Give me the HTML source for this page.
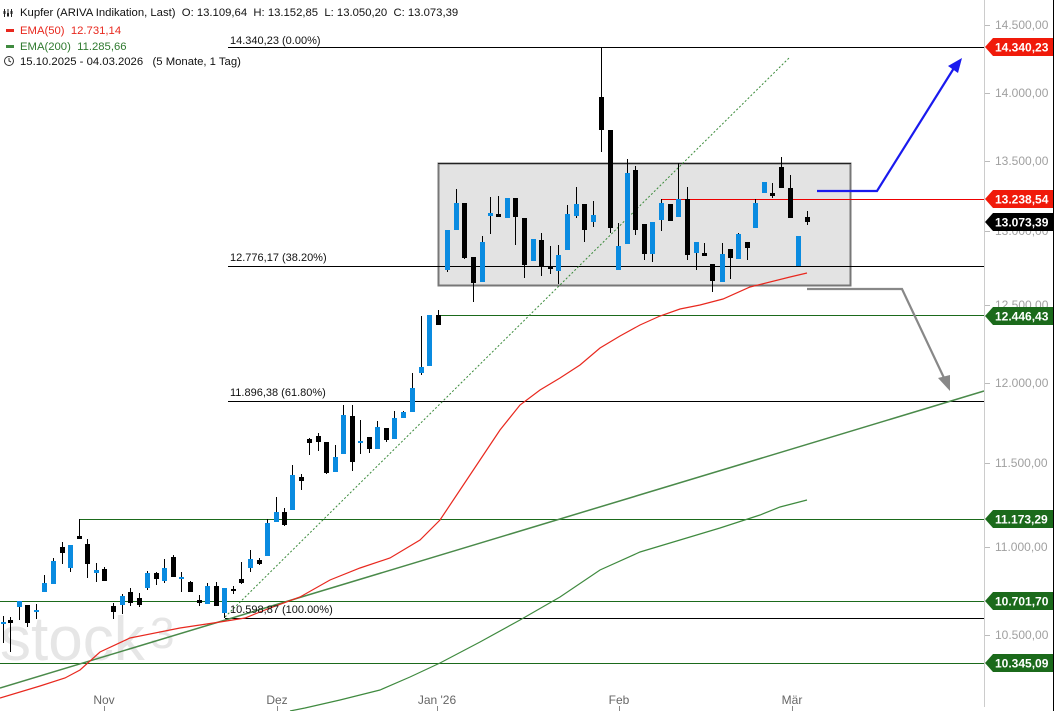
<!DOCTYPE html>
<html><head><meta charset="utf-8"><style>
body{margin:0;background:#fff;}
svg{display:block;font-family:"Liberation Sans",Arial,sans-serif;}
text{white-space:pre;}
</style></head><body>
<svg id="c" width="1055" height="711" xmlns="http://www.w3.org/2000/svg">
<rect width="1055" height="711" fill="#fff"/>
<text x="0" y="660" font-size="62" fill="#e6e6e6" font-family="Liberation Sans,sans-serif">stock</text>
<text x="150" y="648" font-size="44" fill="#e6e6e6">3</text>
<rect x="438.5" y="163.5" width="412" height="122" fill="#e3e3e3" stroke="#777" stroke-width="2"/>
<line x1="438" y1="163.5" x2="851" y2="163.5" stroke="#222" stroke-width="1"/>
<g id="lines"></g>
<g id="candles"></g>
<g id="over"></g>
</svg>
<script>
const ns="http://www.w3.org/2000/svg";
function el(p,t,a,txt){const e=document.createElementNS(ns,t);for(const k in a)e.setAttribute(k,a[k]);if(txt!==undefined)e.textContent=txt;document.getElementById(p).appendChild(e);return e;}
const G="#1b6a1b";
el("lines","line",{x1:228,y1:47.5,x2:985,y2:47.5,stroke:"#000"});
el("lines","line",{x1:228,y1:266.5,x2:985,y2:266.5,stroke:"#000"});
el("lines","line",{x1:228,y1:401.5,x2:985,y2:401.5,stroke:"#000"});
el("lines","line",{x1:225,y1:618.5,x2:985,y2:618.5,stroke:"#000"});
el("lines","line",{x1:438,y1:315.5,x2:985,y2:315.5,stroke:G});
el("lines","line",{x1:79,y1:519.5,x2:985,y2:519.5,stroke:G});
el("lines","line",{x1:79.5,y1:519,x2:79.5,y2:537,stroke:"#000"});
el("lines","line",{x1:0,y1:601.5,x2:985,y2:601.5,stroke:G});
el("lines","line",{x1:0,y1:663.5,x2:985,y2:663.5,stroke:G});
el("lines","line",{x1:661,y1:199.5,x2:985,y2:199.5,stroke:"#e00"});
el("lines","line",{x1:225,y1:617,x2:790,y2:57,stroke:"#3a8a3a","stroke-dasharray":"2,2"});
el("lines","line",{x1:0,y1:688,x2:984,y2:391,stroke:"#4a8a4a","stroke-width":1.5});
el("lines","polyline",{points:"290,711 305,708 340,700 380,690 410,677 440,663 480,642 520,620 560,597 600,570 640,552 680,540 720,528 760,515 780,507 807,500",fill:"none",stroke:"#3f8a3f","stroke-width":1.2});
el("lines","polyline",{points:"0,698 40,686 65,678 80,670 100,652 130,638 180,628 220,622 245,618 270,608 300,597 330,580 360,568 390,558 420,540 440,520 460,490 480,460 500,430 520,405 540,390 560,378 580,365 600,348 620,336 640,325 660,316 680,309 700,305 723,299 750,287 790,277 807,273",fill:"none",stroke:"#e8281e","stroke-width":1.2});
el("lines","text",{x:230,y:44,"font-size":11,fill:"#111"},"14.340,23 (0.00%)");
el("lines","text",{x:230,y:261,"font-size":11,fill:"#111"},"12.776,17 (38.20%)");
el("lines","text",{x:230,y:396,"font-size":11,fill:"#111"},"11.896,38 (61.80%)");
el("lines","text",{x:230,y:613,"font-size":11,fill:"#111"},"10.598,87 (100.00%)");
const C=[[3,622,624,616,643,'b'],[10,620,623,617,652,'k'],[19,601,607,601,620,'b'],[27,605,623,605,627,'k'],[36,610,612,604,619,'b'],
[44,583,592,575,592,'b'],[53,561,584,558,584,'b'],[62,547,553,542,564,'k'],[70,545,568,545,572,'b'],[79,536,539,519,539,'k'],[87,544,564,539,578,'k'],[96,570,573,563,582,'b'],[104,569,581,567,581,'k'],
[113,606,612,603,619,'k'],[122,596,605,594,614,'b'],[130,592,603,588,606,'k'],[139,598,605,593,607,'k'],[147,573,588,571,590,'b'],[156,573,579,572,585,'k'],[164,568,581,559,583,'b'],[173,557,577,555,577,'k'],[181,577,579,572,592,'b'],[190,582,592,581,592,'k'],[199,600,603,595,606,'k'],[207,586,604,583,604,'b'],[216,586,606,582,606,'k'],[224,588,613,588,618,'b'],
[233,589,591,586,594,'k'],[241,579,583,562,584,'k'],[250,559,568,550,572,'b'],[259,560,564,558,565,'k'],[267,523,556,519,556,'b'],[276,512,522,497,522,'b'],[284,512,525,508,526,'k'],[292,475,510,465,510,'b'],[301,477,481,474,490,'k'],[309,439,443,438,455,'k'],[318,436,442,433,451,'k'],[326,442,473,442,474,'k'],[335,457,472,445,472,'b'],[343,415,454,405,454,'b'],[352,416,462,405,471,'k'],[360,441,443,420,454,'b'],[369,437,449,437,453,'k'],[377,427,449,421,449,'b'],[386,428,440,428,442,'k'],[394,418,439,411,439,'b'],[403,412,418,411,418,'b'],[412,388,412,373,412,'b'],[421,367,373,316,375,'b'],[429,315,366,315,366,'b'],[438,315,325,310,325,'k'],
[447,230,270,230,272,'b'],[456,203,230,189,230,'b'],[464,203,258,203,259,'k'],[473,257,283,257,302,'k'],[482,242,282,236,282,'b'],[490,213,216,197,234,'b'],[498,214,217,196,217,'k'],[507,198,218,198,218,'b'],[515,198,217,198,245,'k'],[524,218,265,218,278,'k'],[533,239,261,239,261,'b'],[541,240,266,233,276,'k'],[550,267,269,246,274,'k'],[558,255,271,245,284,'b'],[567,214,250,205,250,'b'],[576,204,216,187,218,'b'],[584,204,230,204,242,'k'],[593,215,222,201,227,'b'],
[601,97,130,47,152,'k'],[610,130,228,130,233,'k'],[618,246,270,223,270,'b'],[627,173,244,159,244,'b'],[635,170,230,166,235,'k'],[644,224,254,224,260,'k'],[652,222,254,222,262,'b'],[661,203,220,199,231,'b'],[670,204,221,204,221,'k'],[678,199,217,163,217,'b'],[687,199,255,187,260,'k'],[696,242,253,242,270,'b'],[704,253,256,243,256,'k'],[712,264,281,264,292,'k'],[722,254,282,243,282,'b'],[730,249,258,249,279,'k'],[738,234,259,233,259,'b'],[747,242,248,242,260,'k'],[755,203,228,199,228,'b'],[764,182,193,182,193,'b'],[772,193,196,183,198,'k'],[781,167,188,157,188,'k'],[790,188,218,175,218,'k'],[798,236,266,236,266,'b'],[807,217,222,211,225,'k']];
for(const c of C){const col=c[5]=='b'?"#0a8be0":"#000";
el("candles","line",{x1:c[0]+0.5,y1:c[3],x2:c[0]+0.5,y2:c[4],stroke:"#000"});
el("candles","rect",{x:c[0]-2,y:c[1],width:5,height:Math.max(2,c[2]-c[1]),fill:col});}
el("over","polyline",{points:"817,191 877,191 954,68",fill:"none",stroke:"#1a1aee","stroke-width":2.2});
el("over","polygon",{points:"962,58 948,66 958,73",fill:"#1a1aee"});
el("over","polyline",{points:"807,289 902,289 945,380",fill:"none",stroke:"#888","stroke-width":2.2});
el("over","polygon",{points:"950,391 938,378 950,375",fill:"#888"});
el("over","rect",{x:985,y:0,width:70,height:711,fill:"#fff"});
el("over","line",{x1:984.5,y1:0,x2:984.5,y2:707,stroke:"#ccc"});
el("over","line",{x1:1053.5,y1:0,x2:1053.5,y2:711,stroke:"#000"});
const T=[["14.500,00",25],["14.000,00",93],["13.500,00",161],["13.000,00",231],["12.500,00",305],["12.000,00",383],["11.500,00",463],["11.000,00",547],["10.500,00",635]];
for(const t of T){el("over","line",{x1:985,y1:t[1]+0.5,x2:990,y2:t[1]+0.5,stroke:"#bbb"});el("over","text",{x:995,y:t[1]+4,"font-size":12,fill:"#a0a0a0"},t[0]);}
const B=[["14.340,23",47,"#f01a0a"],["13.238,54",199,"#f01a0a"],["13.073,39",222,"#000"],["12.446,43",316,G],["11.173,29",519,G],["10.701,70",601,G],["10.345,09",663,G]];
for(const b of B){el("over","polygon",{points:`985,${b[1]} 993,${b[1]-9} 1053,${b[1]-9} 1053,${b[1]+9} 993,${b[1]+9}`,fill:b[2]});
el("over","text",{x:995,y:b[1]+4.5,"font-size":12,"font-weight":"bold",fill:"#fff"},b[0]);}
const X=[["Nov",104],["Dez",277],["Jan '26",437],["Feb",619],["Mär",792]];
for(const x of X){el("over","line",{x1:x[1]+0.5,y1:706,x2:x[1]+0.5,y2:711,stroke:"#888"});el("over","text",{x:x[1],y:704,"font-size":12,fill:"#666","text-anchor":"middle"},x[0]);}
el("over","text",{x:20,y:16,"font-size":11.3,fill:"#111"},"Kupfer (ARIVA Indikation, Last)  O: 13.109,64  H: 13.152,85  L: 13.050,20  C: 13.073,39");
for(let i=0;i<3;i++){el("over","line",{x1:4.5+i*3.5,y1:9,x2:4.5+i*3.5,y2:17,stroke:"#222"});el("over","rect",{x:3.5+i*3.5,y:11+i%2*2,width:2,height:3,fill:"#222"});}
el("over","rect",{x:6,y:29,width:8,height:3,fill:"#e8281e"});
el("over","text",{x:20,y:34,"font-size":11.3,fill:"#e8281e"},"EMA(50)  12.731,14");
el("over","rect",{x:6,y:45,width:8,height:3,fill:"#3f8a3f"});
el("over","text",{x:20,y:50,"font-size":11.3,fill:"#2f7a2f"},"EMA(200)  11.285,66");
el("over","circle",{cx:9,cy:61,r:4.5,fill:"none",stroke:"#333"});
el("over","polyline",{points:"9,58 9,61 11,62",fill:"none",stroke:"#333"});
el("over","text",{x:20,y:65,"font-size":11.3,fill:"#111"},"15.10.2025 - 04.03.2026   (5 Monate, 1 Tag)");
</script>
</body></html>
